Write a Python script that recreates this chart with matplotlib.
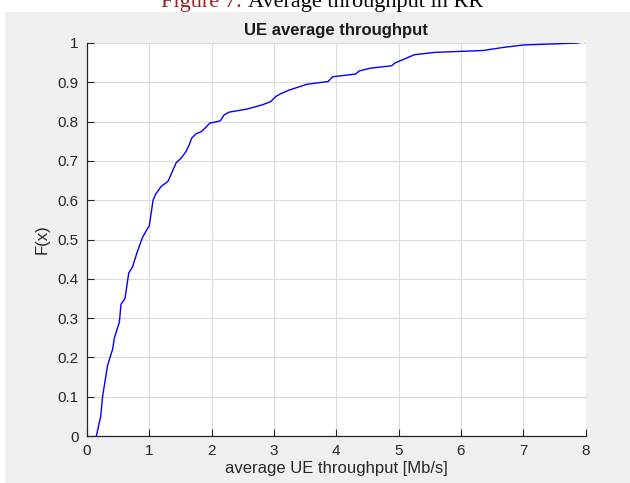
import matplotlib
matplotlib.use('Agg')
import matplotlib.pyplot as plt
from matplotlib.patches import Rectangle

plt.rcParams['font.family'] = ['Liberation Sans', 'DejaVu Sans']

# CDF of average UE throughput
throughput = [0.15, 0.22, 0.25, 0.33, 0.41, 0.44, 0.52, 0.545, 0.61, 0.67,
              0.73, 0.81, 0.89, 0.96, 1.0, 1.06, 1.1, 1.19, 1.30, 1.43,
              1.51, 1.59, 1.64, 1.68, 1.75, 1.84, 1.91, 1.97, 2.14, 2.2,
              2.28, 2.57, 2.82, 2.95, 3.03, 3.11, 3.24, 3.53, 3.87, 3.94,
              4.31, 4.37, 4.55, 4.89, 4.94, 5.06, 5.25, 5.57, 6.36, 6.69,
              7.01, 7.89]
cdf = [0.0, 0.05, 0.10, 0.18, 0.22, 0.25, 0.29, 0.335, 0.35, 0.415,
       0.43, 0.47, 0.505, 0.525, 0.535, 0.60, 0.615, 0.635, 0.648, 0.695,
       0.707, 0.724, 0.741, 0.758, 0.769, 0.775, 0.786, 0.796, 0.802, 0.817,
       0.824, 0.832, 0.843, 0.851, 0.864, 0.871, 0.880, 0.895, 0.902, 0.914,
       0.921, 0.929, 0.936, 0.942, 0.949, 0.957, 0.970, 0.976, 0.981, 0.989,
       0.995, 1.0]

xticks = list(range(0, 9))
yticks = [0, 0.1, 0.2, 0.3, 0.4, 0.5, 0.6, 0.7, 0.8, 0.9, 1]
ytick_labels = ['0', '0.1', '0.2', '0.3', '0.4', '0.5', '0.6', '0.7', '0.8', '0.9', '1']

W, H = 630, 483
fig = plt.figure(figsize=(W / 100, H / 100), dpi=100, facecolor='white')

# grey matlab figure panel below the caption
fig.patches.append(Rectangle((5 / W, 0), 625 / W, (H - 12) / H,
                             transform=fig.transFigure, facecolor='#f0f0f0',
                             edgecolor='none', zorder=-5))

# caption of the document, cut off at the top
fig.text(248 / W, 1 - 7 / H, 'Figure 7: ', color='#a02020', ha='right',
         va='baseline', fontsize=16, family=['Liberation Serif'])
fig.text(248 / W, 1 - 7 / H, 'Average throughput in RR', color='black', ha='left',
         va='baseline', fontsize=16, family=['Liberation Serif'])

ax = fig.add_axes([87 / W, 47 / H, 498.5 / W, 393 / H])
ax.set_facecolor('white')
ax.plot(throughput, cdf, color='#0000ff', lw=1.0)

ax.set_xlim(0, 8)
ax.set_ylim(0, 1)
ax.set_xticks(xticks)
ax.set_yticks(yticks)
ax.set_yticklabels(ytick_labels)
ax.grid(True, color='#dcdcdc', lw=0.8)
ax.set_axisbelow(True)

for s in ['top', 'right']:
    ax.spines[s].set_visible(False)
for s in ['left', 'bottom']:
    ax.spines[s].set_color('#262626')
    ax.spines[s].set_linewidth(0.9)

ax.tick_params(direction='in', length=5, width=0.8, colors='#262626',
               labelsize=11, pad=6)

ax.set_title('UE average throughput', fontsize=12, fontweight='bold',
             color='#1a1a1a', pad=6)
ax.set_xlabel('average UE throughput [Mb/s]', fontsize=12, color='#262626', labelpad=2)
ax.set_ylabel('F(x)', fontsize=12, color='#262626', labelpad=6)

fig.savefig('out.png', dpi=100, facecolor=fig.get_facecolor())
